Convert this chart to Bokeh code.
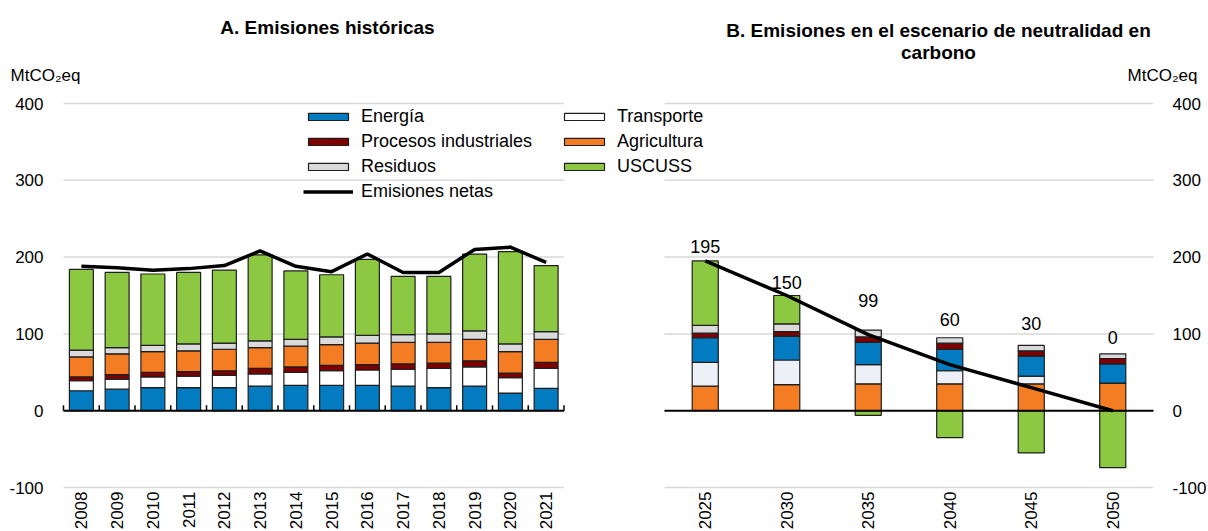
import numpy as np
from math import pi
from bokeh.plotting import figure
from bokeh.models import (Range1d, Legend, LegendItem, Label, LabelSet, ColumnDataSource)
from bokeh.core.properties import value
from bokeh.embed import file_html
from bokeh.resources import INLINE

# ---------------- data ----------------
years_a = ["2008", "2009", "2010", "2011", "2012", "2013", "2014",
           "2015", "2016", "2017", "2018", "2019", "2020", "2021"]
energia_a = [26, 28, 30, 30, 30, 32, 33, 33, 33, 32, 30, 32, 23, 29]
transporte_a = [13, 13, 14, 15, 16, 16, 17, 19, 20, 22, 25, 25, 20, 26]
procesos_a = [5, 6, 6, 6, 6, 7, 7, 7, 7, 7, 7, 8, 6, 8]
agricultura_a = [26, 27, 27, 27, 28, 27, 27, 27, 28, 28, 27, 28, 28, 30]
residuos_a = [9, 8, 8, 9, 8, 9, 9, 10, 10, 10, 11, 11, 10, 10]
uscuss_a = [105, 98, 93, 93, 95, 112, 89, 81, 99, 76, 75, 100, 120, 86]
netas_a = [188, 186, 183, 185, 189, 208, 188, 181, 204, 180, 180, 210, 213, 193]

years_b = ["2025", "2030", "2035", "2040", "2045", "2050"]
agricultura_b = [32, 34, 35, 35, 35, 36]
transporte_b = [31, 32, 25, 17, 10, 0]
energia_b = [32, 31, 29, 28, 26, 25]
procesos_b = [6, 6, 7, 8, 7, 7]
residuos_b = [10, 10, 9, 7, 7, 6]
uscuss_b = [84, 37, -6, -35, -55, -74]
netas_b = [195, 150, 99, 60, 30, 0]
label_pos_b = [214, 167, 143, 119, 113, 95]

yticks = [-100, 0, 100, 200, 300, 400]
ytick_labels = ["-100", "0", "100", "200", "300", "400"]

# ---------------- style ----------------
FONT = "Liberation Sans"
C_EN = "#037bc1"
C_TR = "#ffffff"
C_TR_B = "#edf0f7"
C_PR = "#7f0000"
C_AG = "#f47d23"
C_RE = "#dadada"
C_US = "#8cc841"
C_OUT = "#1e1e1e"
C_GRID = "#d9d9d9"

# layout: the frame covers the whole canvas (page has no margin)
W, H = 1208, 531
Y_TOP_IMG, Y_BOT_IMG = 103.0, 487.0           # pixel rows of 400 and -100
A_LEFT, A_RIGHT = 63.0, 563.5                 # panel A plot area (pixels)
B_LEFT, B_RIGHT = 664.0, 1153.0               # panel B plot area (pixels)

k = (Y_BOT_IMG - Y_TOP_IMG) / (yticks[-1] - yticks[0])   # px per unit
y_start = yticks[0] - (H - Y_BOT_IMG) / k
y_end = yticks[-1] + Y_TOP_IMG / k

na, nb = len(years_a), len(years_b)
px_a = (A_RIGHT - A_LEFT) / na
px_b = (B_RIGHT - B_LEFT) / nb
xa_start = -0.5 - A_LEFT / px_a
xb_start = -0.5 - B_LEFT / px_b
xa_range = Range1d(xa_start, xa_start + W / px_a)
xb_range = Range1d(xb_start, xb_start + W / px_b)

p = figure(width=W, height=H, output_backend="svg", toolbar_location=None,
           x_range=xa_range, y_range=Range1d(y_start, y_end),
           x_axis_location=None, y_axis_location=None,
           min_border_left=0, min_border_right=0,
           min_border_top=0, min_border_bottom=0)
p.extra_x_ranges = {"b": xb_range}
p.outline_line_color = None
p.background_fill_color = "white"
p.border_fill_color = "white"
for g in p.grid:
    g.visible = False

xa = np.arange(na)
xb = np.arange(nb)

# gridlines
grid_vals = [v for v in yticks if v != 0]
p.segment(x0=-0.5, x1=na - 0.5, y0=grid_vals, y1=grid_vals,
          line_color=C_GRID, line_width=1.5, level="underlay")
p.segment(x0=-0.5, x1=nb - 0.5, y0=grid_vals, y1=grid_vals,
          line_color=C_GRID, line_width=1.5, level="underlay", x_range_name="b")

# y tick labels (left of panel A, right of panel B)
src_yl = ColumnDataSource(dict(x=[-0.5] * len(yticks), y=yticks, t=ytick_labels))
src_yr = ColumnDataSource(dict(x=[nb - 0.5] * len(yticks), y=yticks, t=ytick_labels))
p.add_layout(LabelSet(x="x", y="y", text="t", source=src_yl, x_offset=-20,
                      text_align="right", text_baseline="middle",
                      text_font=value(FONT), text_font_size=value("17px"),
                      text_color="black"))
p.add_layout(LabelSet(x="x", y="y", text="t", source=src_yr, x_range_name="b",
                      x_offset=19, text_align="left", text_baseline="middle",
                      text_font=value(FONT), text_font_size=value("17px"),
                      text_color="black"))

def draw_stack(xs, series, width, rng):
    n = len(xs)
    pos = np.zeros(n)
    neg = np.zeros(n)
    rends = []
    for vals, color in series:
        v = np.array(vals, dtype=float)
        bottom = np.where(v >= 0, pos, neg)
        top = bottom + v
        pos = np.where(v >= 0, pos + v, pos)
        neg = np.where(v < 0, neg + v, neg)
        kw = {} if rng is None else {"x_range_name": rng}
        r = p.vbar(x=xs, bottom=bottom, top=top, width=width,
                   fill_color=color, line_color=C_OUT, line_width=1.2, **kw)
        rends.append(r)
    return rends

ra = draw_stack(xa, [(energia_a, C_EN), (transporte_a, C_TR), (procesos_a, C_PR),
                     (agricultura_a, C_AG), (residuos_a, C_RE), (uscuss_a, C_US)],
                0.67, None)
rb = draw_stack(xb, [(agricultura_b, C_AG), (transporte_b, C_TR_B), (energia_b, C_EN),
                     (procesos_b, C_PR), (residuos_b, C_RE), (uscuss_b, C_US)],
                0.32, "b")

# zero axis lines and ticks
p.segment(x0=[-0.5], x1=[na - 0.5], y0=[0], y1=[0], line_color="black", line_width=2)
p.segment(x0=[-0.5], x1=[nb - 0.5], y0=[0], y1=[0], line_color="black", line_width=2,
          x_range_name="b")
tx = np.arange(na + 1) - 0.5
p.segment(x0=tx, x1=tx, y0=0, y1=7, line_color="black", line_width=1.5)

# net emissions lines
rn = p.line(xa, netas_a, line_color="black", line_width=3.5)
p.line(xb, netas_b, line_color="black", line_width=3.5, x_range_name="b")

# value labels panel B
src_lab = ColumnDataSource(dict(x=xb, y=label_pos_b, t=[str(v) for v in netas_b]))
p.add_layout(LabelSet(x="x", y="y", text="t", source=src_lab, x_range_name="b",
                      text_align="center", text_baseline="middle",
                      text_font=value(FONT), text_font_size=value("18px"),
                      text_color="black"))

# year labels (just under the -100 gridline)
y_lab = yticks[0] - 4 / k
src_ya = ColumnDataSource(dict(x=xa, y=[y_lab] * na, t=years_a))
src_yb = ColumnDataSource(dict(x=xb, y=[y_lab] * nb, t=years_b))
for src, rng in ((src_ya, "default"), (src_yb, "b")):
    p.add_layout(LabelSet(x="x", y="y", text="t", source=src, x_range_name=rng,
                          angle=pi / 2, text_align="right", text_baseline="middle",
                          text_font=value(FONT), text_font_size=value("17px"),
                          text_color="black"))

# titles and unit labels (screen coordinates, origin at bottom-left)
def add_text(text, ix, iy, align="center", size="17px", bold=False):
    p.add_layout(Label(x=ix, y=H - iy, x_units="screen", y_units="screen",
                       text=text, text_align=align, text_baseline="middle",
                       text_font=FONT, text_font_size=size,
                       text_font_style="bold" if bold else "normal",
                       text_color="black"))

add_text("A. Emisiones históricas", 327, 27, size="19px", bold=True)
add_text("B. Emisiones en el escenario de neutralidad en", 938, 30, size="19px", bold=True)
add_text("carbono", 938, 52, size="19px", bold=True)
add_text("MtCO₂eq", 10, 75, align="left")
add_text("MtCO₂eq", 1197, 75, align="right")

# legends
def make_legend(items, left_px, bottom_px):
    lg = Legend(items=items, location=(left_px, H - bottom_px), orientation="vertical",
                glyph_width=50, glyph_height=9, label_standoff=8, spacing=4,
                padding=0, margin=0, border_line_color=None,
                background_fill_alpha=0, label_text_font=FONT,
                label_text_font_size="18px", label_text_color="black",
                label_height=21, label_text_baseline="middle")
    p.add_layout(lg, "center")

make_legend([LegendItem(label="Energía", renderers=[ra[0]]),
             LegendItem(label="Procesos industriales", renderers=[ra[2]]),
             LegendItem(label="Residuos", renderers=[ra[4]]),
             LegendItem(label="Emisiones netas", renderers=[rn])],
            303, 202)
make_legend([LegendItem(label="Transporte", renderers=[ra[1]]),
             LegendItem(label="Agricultura", renderers=[ra[3]]),
             LegendItem(label="USCUSS", renderers=[ra[5]])],
            559, 177)

open("out.html", "w").write(file_html(p, INLINE))
